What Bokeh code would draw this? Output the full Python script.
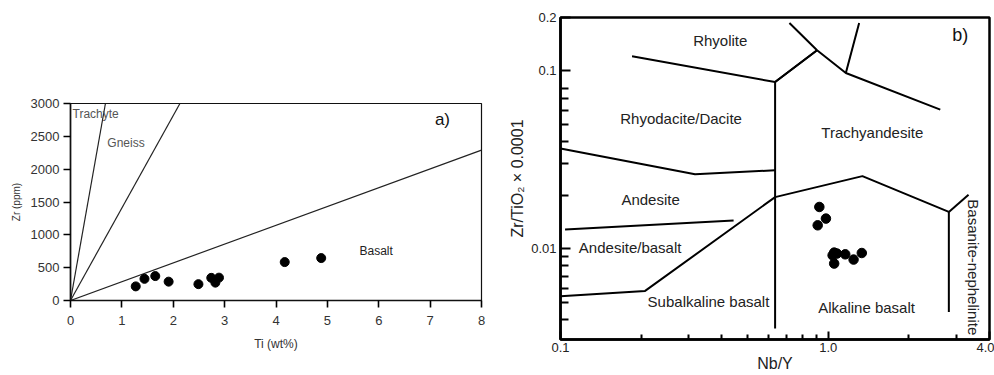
from bokeh.plotting import figure
from bokeh.models import FixedTicker, CustomJSTickFormatter, ColumnDataSource
from bokeh.embed import file_html
from bokeh.resources import INLINE
from bokeh.core.properties import value
from bokeh.core.templates import FILE

FONT = "Liberation Sans"

# ---------------- Panel a data ----------------
ti_wt = [1.27, 1.44, 1.65, 1.91, 2.49, 2.74, 2.82, 2.89, 4.17, 4.88]
zr_ppm = [215, 330, 372, 287, 249, 345, 272, 348, 585, 646]

a_x_ticks = [0, 1, 2, 3, 4, 5, 6, 7, 8]
a_y_ticks = [0, 500, 1000, 1500, 2000, 2500, 3000]

trachyte_line_ti = [0, 0.68]
trachyte_line_zr = [0, 3000]
gneiss_line_ti = [0, 2.13]
gneiss_line_zr = [0, 3000]
basalt_line_ti = [0, 8]
basalt_line_zr = [0, 2290]

a_label_names = ["Trachyte", "Gneiss", "Basalt"]
a_label_ti = [0.49, 1.08, 5.95]
a_label_zr = [2845, 2400, 750]
a_label_colors = ["#555555", "#555555", "#222222"]

# ---------------- Panel b data ----------------
nb_y = [0.926, 0.980, 0.913, 1.052, 1.038, 1.077, 1.157, 1.243, 1.334, 1.052]
zr_tio2 = [0.01716, 0.01476, 0.01353, 0.00950, 0.00917, 0.00938, 0.00929, 0.00868, 0.00945, 0.00824]

b_x_tick_vals = [0.1, 1.0, 4.0]
b_x_tick_names = ["0.1", "1.0", "4.0"]
b_x_minor = [0.2, 0.3, 0.4, 0.5, 0.6, 0.7, 0.8, 0.9, 2.0, 3.0]
b_y_tick_vals = [0.01, 0.1, 0.2]
b_y_tick_names = ["0.01", "0.1", "0.2"]
b_y_minor = [0.004, 0.005, 0.006, 0.007, 0.008, 0.009,
             0.02, 0.03, 0.04, 0.05, 0.06, 0.07, 0.08]

# field boundaries (Nb/Y, Zr/TiO2*0.0001)
boundary_xs = [
    [0.185, 0.633, 0.908],
    [0.716, 0.908, 1.163, 2.62],
    [1.163, 1.304],
    [0.633, 0.908],
    [0.633, 0.633],
    [0.1, 0.318, 0.633],
    [0.104, 0.443],
    [0.1, 0.207, 0.633, 1.341, 2.82],
    [2.82, 2.82],
    [2.82, 3.34],
]
boundary_ys = [
    [0.1209, 0.0867, 0.1307],
    [0.1863, 0.1307, 0.0974, 0.0606],
    [0.0974, 0.1863],
    [0.0867, 0.1307],
    [0.0867, 0.00355],
    [0.0366, 0.0262, 0.0276],
    [0.0128, 0.0144],
    [0.00539, 0.00578, 0.0195, 0.0256, 0.0161],
    [0.0161, 0.0044],
    [0.0161, 0.0201],
]

b_label_names = ["Rhyolite", "Rhyodacite/Dacite", "Trachyandesite", "Andesite",
                 "Andesite/basalt", "Subalkaline basalt", "Alkaline basalt"]
b_label_x = [0.395, 0.282, 1.46, 0.217, 0.182, 0.357, 1.39]
b_label_y = [0.149, 0.0539, 0.0448, 0.0190, 0.0102, 0.00501, 0.00469]

# ---------------- Panel a ----------------
pa = figure(width=506, height=374, output_backend="svg", toolbar_location=None,
            x_range=(0, 8), y_range=(0, 3000),
            min_border_left=70, min_border_right=25, min_border_top=103, min_border_bottom=74)
pa.grid.visible = False
pa.outline_line_color = "#111111"
pa.outline_line_width = 1.2
pa.background_fill_color = "white"
pa.border_fill_color = "white"

pa.line(trachyte_line_ti, trachyte_line_zr, line_color="#222222", line_width=1.2)
pa.line(gneiss_line_ti, gneiss_line_zr, line_color="#222222", line_width=1.2)
pa.line(basalt_line_ti, basalt_line_zr, line_color="#222222", line_width=1.2)
pa.scatter(ti_wt, zr_ppm, size=9, color="black")

src_a = ColumnDataSource(dict(x=a_label_ti, y=a_label_zr, t=a_label_names, c=a_label_colors))
pa.text(x="x", y="y", text="t", source=src_a, text_color="c", text_font=value(FONT),
        text_font_size="12px", text_align="center", text_baseline="middle")
pa.text(x=[7.24], y=[2760], text=["a)"], text_font=value(FONT), text_font_size="17px",
        text_align="center", text_baseline="middle", text_color="#111111")

for ax in (pa.xaxis[0], pa.yaxis[0]):
    ax.axis_line_width = 1.6
    ax.axis_line_color = "#111111"
    ax.major_tick_line_width = 1.6
    ax.major_tick_out = 7
    ax.major_tick_in = 0
    ax.minor_tick_line_color = None
    ax.major_label_text_font = FONT
    ax.major_label_text_font_size = "13px"
    ax.major_label_text_color = "#333333"
    ax.axis_label_text_font = FONT
    ax.axis_label_text_font_style = "normal"
    ax.axis_label_text_color = "#333333"
pa.xaxis.ticker = FixedTicker(ticks=a_x_ticks)
pa.yaxis.ticker = FixedTicker(ticks=a_y_ticks)
pa.xaxis.axis_label = "Ti (wt%)"
pa.yaxis.axis_label = "Zr (ppm)"
pa.xaxis.axis_label_text_font_size = "12px"
pa.yaxis.axis_label_text_font_size = "10px"
pa.xaxis.major_label_standoff = 8
pa.xaxis.axis_label_standoff = 9
pa.yaxis.major_label_standoff = 4
pa.yaxis.axis_label_standoff = 6

# ---------------- Panel b ----------------
pb = figure(width=488, height=374, output_backend="svg", toolbar_location=None,
            x_axis_type="log", y_axis_type="log",
            x_range=(0.1, 4.0), y_range=(0.00308, 0.2),
            min_border_left=52, min_border_right=5, min_border_top=17, min_border_bottom=35)
pb.grid.visible = False
pb.outline_line_color = "black"
pb.outline_line_width = 2.5
pb.background_fill_color = "white"
pb.border_fill_color = "white"

pb.multi_line(boundary_xs, boundary_ys, line_color="black", line_width=2)
pb.scatter(nb_y, zr_tio2, size=9.5, color="black")

src_b = ColumnDataSource(dict(x=b_label_x, y=b_label_y, t=b_label_names))
pb.text(x="x", y="y", text="t", source=src_b, text_font=value(FONT),
        text_font_size="15px", text_align="center", text_baseline="middle", text_color="#222222")
pb.text(x=[3.48], y=[0.00785], text=["Basanite-nephelinite"], angle=-1.5708,
        text_font=value(FONT), text_font_size="15px", text_align="center",
        text_baseline="middle", text_color="#222222")
pb.text(x=[3.11], y=[0.160], text=["b)"], text_font=value(FONT), text_font_size="18px",
        text_align="center", text_baseline="middle", text_color="#111111")

fmt_code = """
for (let i = 0; i < vals.length; i++) {
  if (Math.abs(tick / vals[i] - 1) < 1e-6) { return names[i]; }
}
return "";
"""
pb.xaxis.ticker = FixedTicker(ticks=b_x_tick_vals, minor_ticks=b_x_minor)
pb.yaxis.ticker = FixedTicker(ticks=b_y_tick_vals, minor_ticks=b_y_minor)
pb.xaxis.formatter = CustomJSTickFormatter(args=dict(vals=b_x_tick_vals, names=b_x_tick_names), code=fmt_code)
pb.yaxis.formatter = CustomJSTickFormatter(args=dict(vals=b_y_tick_vals, names=b_y_tick_names), code=fmt_code)

for ax in (pb.xaxis[0], pb.yaxis[0]):
    ax.axis_line_width = 2.5
    ax.axis_line_color = "black"
    ax.major_tick_line_width = 2
    ax.minor_tick_line_width = 2
    ax.major_tick_out = 0
    ax.minor_tick_out = 0
    ax.major_label_text_font = FONT
    ax.major_label_text_font_size = "13px"
    ax.major_label_text_color = "#222222"
    ax.axis_label_text_font = FONT
    ax.axis_label_text_font_style = "normal"
    ax.axis_label_text_color = "#222222"
pb.xaxis.major_tick_in = 8
pb.xaxis.minor_tick_in = 5
pb.yaxis.major_tick_in = 10
pb.yaxis.minor_tick_in = 8
pb.xaxis.axis_label = "Nb/Y"
pb.yaxis.axis_label = "Zr/TiO\u2082 \u00d7 0.0001"
pb.xaxis.axis_label_text_font_size = "16px"
pb.yaxis.axis_label_text_font_size = "16px"
pb.xaxis.major_label_standoff = 3
pb.xaxis.axis_label_standoff = 0
pb.yaxis.major_label_standoff = 4
pb.yaxis.axis_label_standoff = 2

# Two independent roots placed side by side (avoids frame alignment of a row layout)
side_by_side = FILE.environment.from_string(
    '{% extends "file.html" %}'
    '{% block inner_body %}<div style="display:flex;flex-direction:row;align-items:flex-start;">'
    '{{ super() }}</div>{% endblock %}'
)

open("out.html", "w").write(file_html([pa, pb], INLINE, template=side_by_side))
